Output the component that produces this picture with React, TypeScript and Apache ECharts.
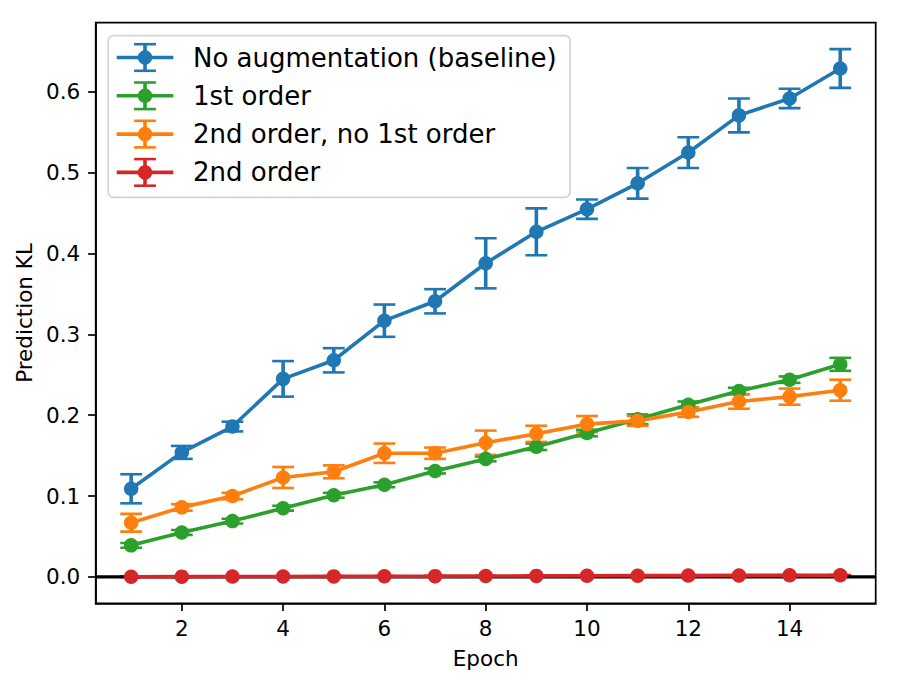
import React, { useEffect, useRef } from "react";
import * as echarts from "echarts";

const epochs = [1, 2, 3, 4, 5, 6, 7, 8, 9, 10, 11, 12, 13, 14, 15];

const seriesNames = [
  "No augmentation (baseline)",
  "1st order",
  "2nd order, no 1st order",
  "2nd order",
];
const seriesColors = ["#1f77b4", "#2ca02c", "#ff7f0e", "#d62728"];

const baseline = [0.109, 0.154, 0.186, 0.245, 0.268, 0.317, 0.341, 0.388, 0.427, 0.455, 0.487, 0.525, 0.571, 0.592, 0.629];
const baselineErr = [0.018, 0.008, 0.006, 0.022, 0.015, 0.02, 0.015, 0.031, 0.029, 0.012, 0.019, 0.019, 0.021, 0.012, 0.024];

const firstOrder = [0.039, 0.055, 0.069, 0.085, 0.101, 0.114, 0.131, 0.146, 0.161, 0.178, 0.195, 0.213, 0.23, 0.244, 0.263];
const firstOrderErr = [0.003, 0.003, 0.003, 0.003, 0.003, 0.003, 0.003, 0.003, 0.004, 0.004, 0.006, 0.004, 0.004, 0.004, 0.008];

const secondNoFirst = [0.067, 0.086, 0.1, 0.123, 0.13, 0.153, 0.153, 0.166, 0.177, 0.189, 0.193, 0.204, 0.217, 0.223, 0.231];
const secondNoFirstErr = [0.011, 0.004, 0.004, 0.013, 0.008, 0.012, 0.007, 0.015, 0.01, 0.01, 0.006, 0.006, 0.009, 0.01, 0.013];

const secondOrder = [0.0002, 0.0003, 0.0004, 0.0005, 0.0006, 0.0008, 0.0009, 0.0011, 0.0012, 0.0013, 0.0015, 0.0016, 0.0018, 0.0019, 0.0021];
const secondOrderErr = [0.0003, 0.0003, 0.0003, 0.0003, 0.0003, 0.0003, 0.0003, 0.0003, 0.0003, 0.0003, 0.0003, 0.0003, 0.0003, 0.0003, 0.0003];

const xTicks = [2, 4, 6, 8, 10, 12, 14];
const yTicks = [0, 0.1, 0.2, 0.3, 0.4, 0.5, 0.6];

const FONT = "DejaVu Sans";
const X_MIN = 0.3;
const X_MAX = 15.7;
const Y_MIN = -0.0327;
const Y_MAX = 0.6857;

const allValues = [baseline, firstOrder, secondNoFirst, secondOrder];
const allErrs = [baselineErr, firstOrderErr, secondNoFirstErr, secondOrderErr];

export default function App() {
  const ref = useRef<HTMLDivElement>(null);

  useEffect(() => {
    if (!ref.current) return;
    const chart = echarts.init(ref.current, undefined, { renderer: "svg" });

    const LW = 3.6;
    const CAP_W = 2.6;
    const series: any[] = [];
    series.push({
      type: "line",
      data: [
        [X_MIN, 0],
        [X_MAX, 0],
      ],
      symbol: "none",
      lineStyle: { color: "#000", width: 3.3 },
      silent: true,
      z: 2,
    });

    allValues.forEach((vals, si) => {
      const color = seriesColors[si];
      const errs = allErrs[si];
      series.push({
        type: "line",
        name: seriesNames[si],
        data: epochs.map((e, i) => [e, vals[i]]),
        symbol: "circle",
        symbolSize: 14.5,
        showSymbol: true,
        lineStyle: { color, width: LW },
        itemStyle: { color, borderWidth: 0 },
        z: 2,
      });
      series.push({
        type: "custom",
        name: seriesNames[si] + " err",
        data: epochs.map((e, i) => [e, vals[i], errs[i]]),
        encode: { x: 0, y: 1 },
        clip: true,
        z: 2,
        renderItem: (params: any, api: any) => {
          const x = api.value(0);
          const y = api.value(1);
          const err = api.value(2);
          const p1 = api.coord([x, y + err]);
          const p2 = api.coord([x, y - err]);
          const cap = 10.9;
          return {
            type: "group",
            children: [
              {
                type: "line",
                shape: { x1: p1[0], y1: p1[1], x2: p2[0], y2: p2[1] },
                style: { stroke: color, lineWidth: LW },
              },
              {
                type: "line",
                shape: { x1: p1[0] - cap, y1: p1[1], x2: p1[0] + cap, y2: p1[1] },
                style: { stroke: color, lineWidth: CAP_W },
              },
              {
                type: "line",
                shape: { x1: p2[0] - cap, y1: p2[1], x2: p2[0] + cap, y2: p2[1] },
                style: { stroke: color, lineWidth: CAP_W },
              },
            ],
          };
        },
      });
    });

    const legendChildren: any[] = [];
    const lgX = 108.3;
    const lgY = 35.7;
    legendChildren.push({
      type: "rect",
      shape: { x: lgX, y: lgY, width: 461.7, height: 161.6, r: 5 },
      style: { fill: "rgba(255,255,255,0.8)", stroke: "#d4d4d4", lineWidth: 1.7 },
    });
    seriesNames.forEach((name, i) => {
      const cy = 57.5 + i * 38.3;
      const cx = 145;
      const color = seriesColors[i];
      legendChildren.push(
        { type: "line", shape: { x1: 116.7, y1: cy, x2: 173.3, y2: cy }, style: { stroke: color, lineWidth: LW } },
        { type: "line", shape: { x1: cx, y1: cy - 13.3, x2: cx, y2: cy + 13.3 }, style: { stroke: color, lineWidth: LW } },
        { type: "line", shape: { x1: cx - 10.9, y1: cy - 13.3, x2: cx + 10.9, y2: cy - 13.3 }, style: { stroke: color, lineWidth: CAP_W } },
        { type: "line", shape: { x1: cx - 10.9, y1: cy + 13.3, x2: cx + 10.9, y2: cy + 13.3 }, style: { stroke: color, lineWidth: CAP_W } },
        { type: "circle", shape: { cx, cy, r: 7.25 }, style: { fill: color } },
        {
          type: "text",
          x: 193,
          y: cy,
          style: {
            text: name,
            fontSize: 26,
            fontFamily: FONT,
            fill: "#000",
            verticalAlign: "middle",
            align: "left",
          },
        }
      );
    });

    chart.setOption({
      animation: false,
      backgroundColor: "#fff",
      grid: {
        show: true,
        left: 95.7,
        right: 23.3,
        top: 22.7,
        bottom: 82.7,
        borderColor: "#000",
        borderWidth: 1.7,
        backgroundColor: "transparent",
      },
      xAxis: {
        type: "value",
        min: X_MIN,
        max: X_MAX,
        name: "Epoch",
        nameLocation: "middle",
        nameGap: 44,
        nameTextStyle: { fontSize: 21.5, fontFamily: FONT, color: "#000" },
        axisLine: { show: true, onZero: false, lineStyle: { color: "#000", width: 1.7 } },
        axisTick: { show: true, customValues: xTicks, length: 7.6, lineStyle: { color: "#000", width: 1.7 } },
        axisLabel: {
          customValues: xTicks,
          fontSize: 21.5,
          fontFamily: FONT,
          color: "#000",
          margin: 14,
        },
        splitLine: { show: false },
      },
      yAxis: {
        type: "value",
        min: Y_MIN,
        max: Y_MAX,
        name: "Prediction KL",
        nameLocation: "middle",
        nameGap: 60,
        nameTextStyle: { fontSize: 21.5, fontFamily: FONT, color: "#000" },
        axisLine: { show: true, onZero: false, lineStyle: { color: "#000", width: 1.7 } },
        axisTick: { show: true, customValues: yTicks, length: 7.6, lineStyle: { color: "#000", width: 1.7 } },
        axisLabel: {
          customValues: yTicks,
          fontSize: 21.5,
          fontFamily: FONT,
          color: "#000",
          margin: 15.5,
          formatter: (v: number) => v.toFixed(1),
        },
        splitLine: { show: false },
      },
      series,
      graphic: [{ type: "group", children: legendChildren, z: 100 }],
    });

    return () => chart.dispose();
  }, []);

  return (
    <div
      ref={ref}
      style={{ position: "fixed", left: 0, top: 0, width: 899, height: 686 }}
    />
  );
}
